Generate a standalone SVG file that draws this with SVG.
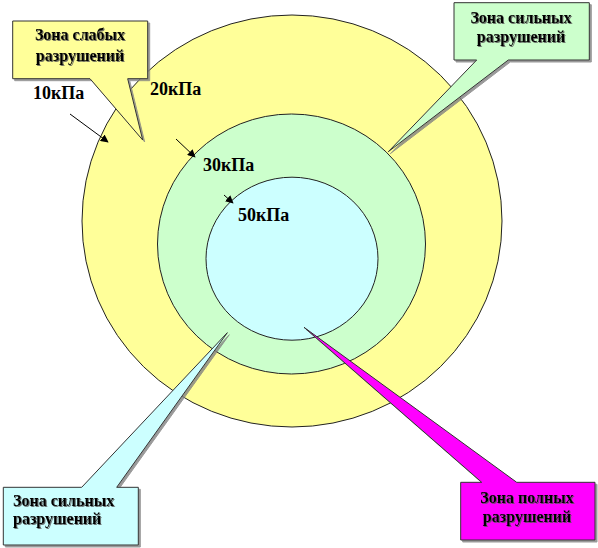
<svg xmlns="http://www.w3.org/2000/svg" width="598" height="548" viewBox="0 0 598 548">
<style>
.zone{stroke:#222;stroke-width:1}
.call{stroke:#333;stroke-width:1;filter:url(#sh)}
.ct{font-family:"Liberation Serif","Times New Roman",serif;font-weight:bold;font-size:16px;fill:#000;filter:url(#tsh)}
.lbl{font-family:"Liberation Serif","Times New Roman",serif;font-weight:bold;font-size:18px;fill:#000}
.arr{stroke:#000;stroke-width:1;fill:none;marker-end:url(#ah)}
</style>
<defs>
<marker id="ah" viewBox="0 0 10 10" refX="9" refY="5" markerWidth="8" markerHeight="8" markerUnits="userSpaceOnUse" orient="auto">
<path d="M0,0 L10,5 L0,10 Z" fill="#000"/>
</marker>
<filter id="sh" x="-10%" y="-10%" width="130%" height="130%">
<feDropShadow dx="2" dy="2" stdDeviation="0" flood-color="#808080" flood-opacity="0.8"/>
</filter>
<filter id="tsh" x="-10%" y="-20%" width="130%" height="150%">
<feDropShadow dx="1" dy="1" stdDeviation="0.6" flood-color="#555" flood-opacity="0.8"/>
</filter>
</defs>
<g id="zone-outer"><ellipse class="zone" cx="292" cy="221" rx="210" ry="206" fill="#FFFF99"/></g>
<g id="zone-middle"><ellipse class="zone" cx="291.5" cy="244" rx="134" ry="130" fill="#CCFFCC"/></g>
<g id="zone-inner"><ellipse class="zone" cx="292" cy="258.7" rx="86" ry="81.5" fill="#CCFFFF"/></g>
<g id="labels">
<text class="lbl" x="33" y="99">10кПа</text>
<text class="lbl" x="150" y="95">20кПа</text>
<text class="lbl" x="203" y="171">30кПа</text>
<text class="lbl" x="238" y="221">50кПа</text>
</g>
<g id="connectors">
<line class="arr" x1="70" y1="114" x2="108" y2="142"/>
<line class="arr" x1="176" y1="139" x2="195" y2="157"/>
<line class="arr" x1="224" y1="195" x2="233" y2="203"/>
</g>
<g id="callout-weak">
<path class="call" d="M12.7,21 H147.7 V78.7 H127.7 L142.7,140 L90,78.7 H12.7 Z" fill="#FFFF99"/>
<text class="ct" x="80" y="40" text-anchor="middle">Зона слабых</text>
<text class="ct" x="80" y="61" text-anchor="middle">разрушений</text>
</g>
<g id="callout-strong-top">
<path class="call" d="M454,2.7 H589.3 V60 H508.3 L388.3,151.7 L476.7,60 H454 Z" fill="#CCFFCC"/>
<text class="ct" x="521" y="23" text-anchor="middle">Зона сильных</text>
<text class="ct" x="521" y="42" text-anchor="middle">разрушений</text>
</g>
<g id="callout-strong-bottom">
<path class="call" d="M3.3,487.3 H81.7 L227.3,332.7 L116.7,487.3 H138.3 V545 H3.3 Z" fill="#CCFFFF"/>
<text class="ct" x="13" y="506">Зона сильных</text>
<text class="ct" x="13" y="524">разрушений</text>
</g>
<g id="callout-full">
<path class="call" d="M460.7,482.3 H481.7 L304,327.3 L516.7,482.3 H595 V540 H460.7 Z" fill="#FF00FF"/>
<text class="ct" x="527" y="503" text-anchor="middle">Зона полных</text>
<text class="ct" x="527" y="522" text-anchor="middle">разрушений</text>
</g>
</svg>
